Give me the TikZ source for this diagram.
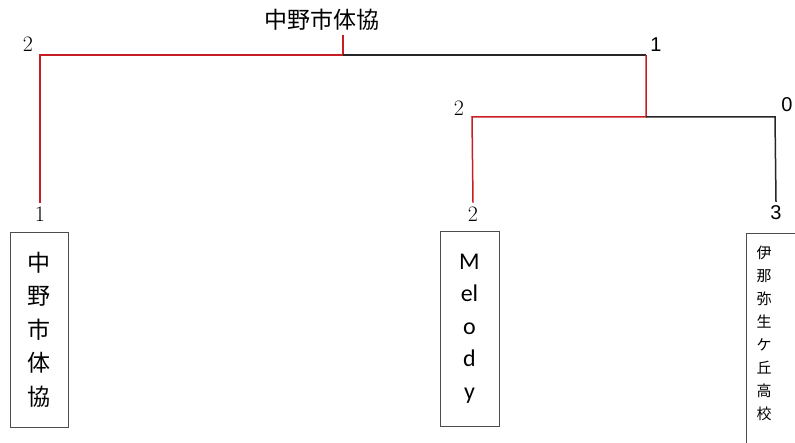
\documentclass[tikz,border=0pt]{standalone}
\usepackage{fontspec}
\usepackage{tikz}
\newfontfamily\jpfont{Noto Sans CJK JP}
\newfontfamily\calfont{Carlito}
\newfontfamily\arifont{Liberation Sans}
\definecolor{winred}{RGB}{200,30,35}

\begin{document}
\begin{tikzpicture}[x=1pt,y=-1pt,line width=1.5pt,
	win/.style={draw=winred},
	lose/.style={draw=black!85},
	seed/.style={font=\fontsize{22}{22}\selectfont},
	score/.style={font=\arifont\fontsize{20}{20}\selectfont},
	team/.style={draw=black!70,line width=0.8pt,inner sep=0pt}]

		\useasboundingbox (0,0) rectangle (795,443);

		\coordinate (w)   at (343, 35);
		\coordinate (top) at (343, 55);
		\coordinate (tl)  at (40, 55);
		\coordinate (tr)  at (646, 55);
		\coordinate (mid) at (646, 117);
		\coordinate (ml)  at (472, 117);
		\coordinate (mr)  at (775, 117);

		\node[font=\jpfont\fontsize{23}{23}\selectfont] (champ) at (322, 20) {中野市体協};

		\node[seed]  (sa) at (28, 44)   {2};
		\node[score] (sb) at (656, 45)  {1};
		\node[seed]  (sc) at (459, 108) {2};
		\node[score] (sd) at (787, 105) {0};

		\node[seed]  (n1) at (40, 214)  {1};
		\node[seed]  (n2) at (473, 214) {2};
		\node[score] (n3) at (776, 213) {3};

		\node[team,minimum width=58,minimum height=195,align=center,font=\jpfont\fontsize{23}{33.5}\selectfont] (t1) at (39, 329.5) {中\\野\\市\\体\\協};
		\node[team,minimum width=59,minimum height=195,align=center,font=\calfont\fontsize{24}{32.5}\selectfont] (t2) at (469.5, 328.5) {M\\el\\o\\d\\y};
		\node[inner sep=0pt,anchor=north west,minimum width=49,minimum height=210] (t3) at (746, 233) {};
		\node[align=center,font=\jpfont\fontsize{15}{23}\selectfont] (t3name) at (764, 333) {伊\\那\\弥\\生\\ケ\\丘\\高\\校};
		\draw[team] (t3.north east) -- (t3.north west) -- (t3.south west);

		\draw[win]  (w) -- (top) -- (tl) -- (n1.north);
		\draw[lose] (top) -- (tr);
		\draw[win]  (tr) -- (mid) -- (ml) -- (n2.north);
		\draw[lose] (mid) -- (mr) -- (n3.north);

\end{tikzpicture}
\end{document}
